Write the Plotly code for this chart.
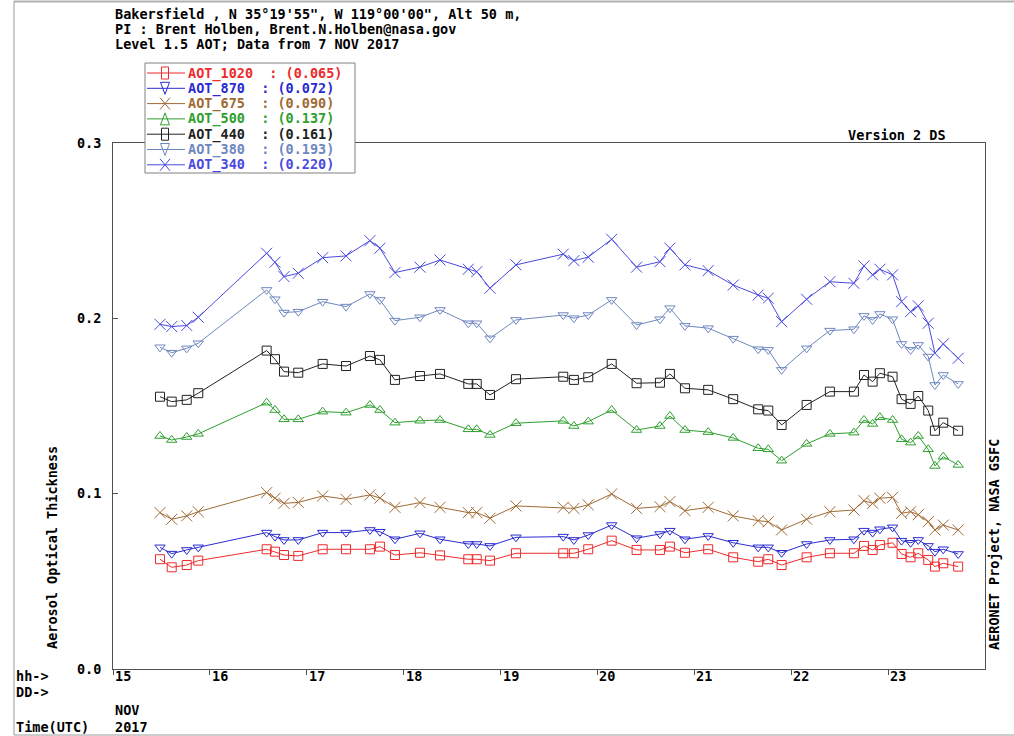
import plotly.graph_objects as go

# Observation times (day of month, November 2017, UTC)
day = [15.485, 15.606, 15.761, 15.880, 16.586, 16.672, 16.765, 16.912, 17.164, 17.405,
       17.652, 17.755, 17.910, 18.168, 18.375, 18.667, 18.754, 18.891, 19.159, 19.647,
       19.757, 19.905, 20.147, 20.404, 20.645, 20.748, 20.903, 21.143, 21.401, 21.659,
       21.763, 21.901, 22.159, 22.399, 22.647, 22.751, 22.840, 22.915, 23.046, 23.139,
       23.232, 23.311, 23.414, 23.483, 23.569, 23.723]

aot_1020 = [0.0626, 0.0580, 0.0593, 0.0618, 0.0683, 0.0669, 0.0650, 0.0645, 0.0683, 0.0683,
            0.0683, 0.0698, 0.0650, 0.0663, 0.0648, 0.0626, 0.0626, 0.0618, 0.0660, 0.0660,
            0.0660, 0.0683, 0.0732, 0.0679, 0.0679, 0.0698, 0.0663, 0.0683, 0.0637, 0.0612,
            0.0626, 0.0593, 0.0637, 0.0660, 0.0660, 0.0702, 0.0679, 0.0707, 0.0720, 0.0656,
            0.0637, 0.0660, 0.0622, 0.0584, 0.0603, 0.0584]

aot_870 = [0.0694, 0.0658, 0.0679, 0.0694, 0.0778, 0.0755, 0.0736, 0.0736, 0.0778, 0.0778,
           0.0793, 0.0783, 0.0740, 0.0774, 0.0740, 0.0713, 0.0713, 0.0702, 0.0751, 0.0755,
           0.0736, 0.0764, 0.0821, 0.0746, 0.0770, 0.0789, 0.0740, 0.0759, 0.0720, 0.0694,
           0.0694, 0.0663, 0.0713, 0.0736, 0.0740, 0.0789, 0.0778, 0.0797, 0.0808, 0.0732,
           0.0720, 0.0736, 0.0702, 0.0669, 0.0683, 0.0656]

aot_675 = [0.0892, 0.0854, 0.0873, 0.0897, 0.1006, 0.0974, 0.0945, 0.0950, 0.0987, 0.0968,
           0.0993, 0.0975, 0.0922, 0.0949, 0.0922, 0.0892, 0.0892, 0.0860, 0.0930, 0.0922,
           0.0916, 0.0936, 0.0998, 0.0916, 0.0926, 0.0955, 0.0903, 0.0922, 0.0873, 0.0846,
           0.0840, 0.0793, 0.0854, 0.0897, 0.0907, 0.0960, 0.0945, 0.0974, 0.0979, 0.0888,
           0.0897, 0.0880, 0.0840, 0.0793, 0.0821, 0.0793]

aot_500 = [0.1329, 0.1306, 0.1323, 0.1341, 0.1519, 0.1477, 0.1424, 0.1424, 0.1468, 0.1462,
           0.1506, 0.1477, 0.1405, 0.1416, 0.1420, 0.1367, 0.1367, 0.1335, 0.1402, 0.1415,
           0.1386, 0.1411, 0.1477, 0.1363, 0.1386, 0.1443, 0.1363, 0.1351, 0.1318, 0.1259,
           0.1253, 0.1188, 0.1284, 0.1341, 0.1348, 0.1420, 0.1398, 0.1436, 0.1420, 0.1310,
           0.1291, 0.1329, 0.1253, 0.1158, 0.1211, 0.1164]

aot_440 = [0.1553, 0.1525, 0.1535, 0.1573, 0.1816, 0.1767, 0.1696, 0.1690, 0.1740, 0.1728,
           0.1785, 0.1763, 0.1649, 0.1671, 0.1683, 0.1626, 0.1626, 0.1563, 0.1653, 0.1667,
           0.1649, 0.1664, 0.1740, 0.1630, 0.1633, 0.1683, 0.1601, 0.1592, 0.1539, 0.1481,
           0.1474, 0.1392, 0.1506, 0.1582, 0.1582, 0.1677, 0.1639, 0.1687, 0.1667, 0.1539,
           0.1512, 0.1557, 0.1474, 0.1359, 0.1405, 0.1359]

aot_380 = [0.1835, 0.1804, 0.1829, 0.1858, 0.2162, 0.2109, 0.2033, 0.2038, 0.2095, 0.2067,
           0.2139, 0.2105, 0.1987, 0.2006, 0.2048, 0.1972, 0.1972, 0.1886, 0.1991, 0.2019,
           0.2001, 0.2019, 0.2105, 0.1962, 0.1995, 0.2058, 0.1957, 0.1944, 0.1884, 0.1824,
           0.1820, 0.1706, 0.1829, 0.1930, 0.1938, 0.2014, 0.1991, 0.2025, 0.1995, 0.1854,
           0.1820, 0.1848, 0.1782, 0.1620, 0.1677, 0.1626]

aot_340 = [0.1966, 0.1953, 0.1959, 0.2006, 0.2371, 0.2320, 0.2238, 0.2257, 0.2346, 0.2356,
           0.2443, 0.2400, 0.2261, 0.2292, 0.2333, 0.2280, 0.2266, 0.2172, 0.2305, 0.2366,
           0.2329, 0.2349, 0.2451, 0.2292, 0.2323, 0.2400, 0.2305, 0.2272, 0.2190, 0.2133,
           0.2115, 0.1981, 0.2109, 0.2209, 0.2200, 0.2299, 0.2248, 0.2280, 0.2248, 0.2095,
           0.2038, 0.2071, 0.1972, 0.1801, 0.1854, 0.1772]

series_names = ["AOT_1020", "AOT_870", "AOT_675", "AOT_500", "AOT_440", "AOT_380", "AOT_340"]
series_values = [aot_1020, aot_870, aot_675, aot_500, aot_440, aot_380, aot_340]
series_means = [0.065, 0.072, 0.090, 0.137, 0.161, 0.193, 0.220]
series_colors = ["#ee2b2b", "#2b2bd0", "#a06a34", "#2f9f2f", "#222222", "#6f87c0", "#4a4ae0"]
series_symbols = ["square-open", "triangle-down-open", "x-thin-open", "triangle-up-open",
                  "square-open", "triangle-down-open", "x-thin-open"]
series_glyphs = ["square", "tri-down", "x", "tri-up", "square", "tri-down", "x"]
series_sizes = [9, 9, 11, 9, 9, 9, 11]

day_ticks = [15, 16, 17, 18, 19, 20, 21, 22, 23]
aot_ticks = [0.0, 0.1, 0.2, 0.3]
aot_ticktext = ["0.0", "0.1", "0.2", "0.3"]

header_lines = [
    "Bakersfield , N 35°19'55\", W 119°00'00\", Alt 50 m,",
    "PI : Brent Holben, Brent.N.Holben@nasa.gov",
    "Level 1.5 AOT; Data from 7 NOV 2017",
]

FONT = "DejaVu Sans Mono"
FS = 13.5
W, H = 1014, 736
PL, PR, PT, PB = 113, 985, 143, 669


def px(X):
    return (X - PL) / (PR - PL)


def py(Y):
    return (PB - Y) / (PB - PT)


fig = go.Figure()

for name, vals, col, sym, sz in zip(series_names, series_values, series_colors,
                                     series_symbols, series_sizes):
    fig.add_trace(go.Scatter(
        x=day, y=vals, mode="lines+markers", name=name, showlegend=False,
        line=dict(color=col, width=1),
        marker=dict(symbol=sym, size=sz, color=col, line=dict(color=col, width=1)),
    ))

shapes = []
annotations = []

# page frame lines
shapes.append(dict(type="line", xref="paper", yref="paper", x0=px(14), x1=px(14),
                   y0=py(1), y1=py(735), line=dict(color="#9a9a9a", width=1)))
shapes.append(dict(type="line", xref="paper", yref="paper", x0=px(14), x1=px(1014),
                   y0=py(1.5), y1=py(1.5), line=dict(color="#b0b0b0", width=2)))
shapes.append(dict(type="line", xref="paper", yref="paper", x0=px(14), x1=px(1014),
                   y0=py(735), y1=py(735), line=dict(color="#9a9a9a", width=1)))

# legend box
LX0, LX1, LY0, LY1 = 145, 355, 63, 173
shapes.append(dict(type="rect", xref="paper", yref="paper", layer="above",
                   x0=px(LX0), x1=px(LX1), y0=py(LY1), y1=py(LY0),
                   fillcolor="white", line=dict(color="#808080", width=1)))


def glyph_shapes(kind, cx, cy, col):
    out = []
    if kind == "square":
        out.append(dict(type="rect", x0=px(cx - 3.5), x1=px(cx + 3.5),
                        y0=py(cy + 6), y1=py(cy - 6), line=dict(color=col, width=1)))
    elif kind in ("tri-down", "tri-up"):
        s = 1 if kind == "tri-down" else -1
        pts = [(cx - 4.5, cy - 6 * s), (cx + 4.5, cy - 6 * s), (cx, cy + 6 * s)]
        path = "M " + " L ".join(f"{px(a):.5f},{py(b):.5f}" for a, b in pts) + " Z"
        out.append(dict(type="path", path=path, line=dict(color=col, width=1)))
    else:
        out.append(dict(type="line", x0=px(cx - 5), x1=px(cx + 5), y0=py(cy - 6),
                        y1=py(cy + 6), line=dict(color=col, width=1)))
        out.append(dict(type="line", x0=px(cx - 5), x1=px(cx + 5), y0=py(cy + 6),
                        y1=py(cy - 6), line=dict(color=col, width=1)))
    for o in out:
        o.update(xref="paper", yref="paper", layer="above")
    return out


for i, (name, mean, col, glyph) in enumerate(zip(series_names, series_means,
                                                  series_colors, series_glyphs)):
    ry = 73 + 15.3 * i
    shapes.append(dict(type="line", xref="paper", yref="paper", layer="above",
                       x0=px(147), x1=px(185), y0=py(ry), y1=py(ry),
                       line=dict(color=col, width=1)))
    shapes.extend(glyph_shapes(glyph, 165, ry, col))
    annotations.append(dict(
        xref="paper", yref="paper", x=px(186), y=py(ry), xanchor="left", yanchor="middle",
        text=f"<b>{name}  : ({mean:.3f})</b>", showarrow=False,
        font=dict(family=FONT, size=FS, color=col)))

# header
for i, line in enumerate(header_lines):
    annotations.append(dict(
        xref="paper", yref="paper", x=0, y=py(14 + 15 * i), xanchor="left", yanchor="middle",
        text=f"<b>{line}</b>", showarrow=False, font=dict(family=FONT, size=FS, color="black")))

annotations.append(dict(
    xref="paper", yref="paper", x=px(948), y=py(135), xanchor="right", yanchor="middle",
    text="<b>Version 2 DS</b>", showarrow=False, font=dict(family=FONT, size=FS, color="black")))

annotations.append(dict(
    xref="paper", yref="paper", x=px(52), y=py(548), xanchor="center", yanchor="middle",
    textangle=-90, text="<b>Aerosol Optical Thickness</b>", showarrow=False,
    font=dict(family=FONT, size=FS, color="black")))

annotations.append(dict(
    xref="paper", yref="paper", x=px(994), y=py(544), xanchor="center", yanchor="middle",
    textangle=-90, text="<b>AERONET Project, NASA GSFC</b>", showarrow=False,
    font=dict(family=FONT, size=FS, color="black")))

# day labels along the time axis, placed just right of each tick
for d in day_ticks:
    annotations.append(dict(
        xref="x", yref="paper", x=d, y=py(676), xanchor="left", yanchor="middle",
        text=f"<b>{d}</b>", showarrow=False, font=dict(family=FONT, size=FS, color="black")))

for txt, X, Y in [("hh->", 14, 676), ("DD->", 14, 692), ("NOV", 113, 710),
                  ("Time(UTC)", 14, 727), ("2017", 113, 727)]:
    annotations.append(dict(
        xref="paper", yref="paper", x=px(X), y=py(Y), xanchor="left", yanchor="middle",
        text=f"<b>{txt}</b>", showarrow=False, font=dict(family=FONT, size=FS, color="black")))

fig.update_layout(
    width=W, height=H, autosize=False,
    margin=dict(l=PL, r=W - PR, t=PT, b=H - PB, pad=0),
    paper_bgcolor="white", plot_bgcolor="white",
    showlegend=False,
    shapes=shapes, annotations=annotations,
    xaxis=dict(range=[15, 24], tickvals=day_ticks, showticklabels=False,
               ticks="outside", ticklen=5, tickcolor="#505050",
               showgrid=False, zeroline=False, showline=True, mirror=True,
               linecolor="#505050", linewidth=1),
    yaxis=dict(range=[0, 0.3], tickvals=aot_ticks, ticktext=aot_ticktext,
               ticks="inside", ticklen=5, tickcolor="#505050",
               tickfont=dict(family=FONT, size=FS, color="black", weight="bold"),
               ticklabelstandoff=8,
               showgrid=False, zeroline=False, showline=True, mirror=True,
               linecolor="#505050", linewidth=1),
)

fig.write_html("out.html")
